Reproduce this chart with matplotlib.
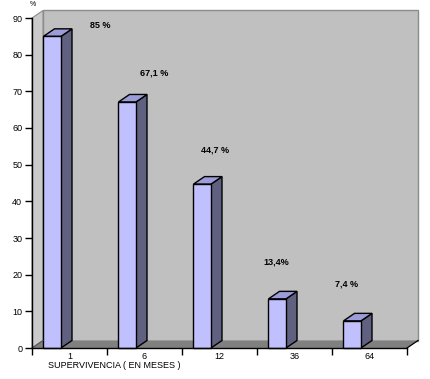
import matplotlib
matplotlib.use("Agg")
import matplotlib.pyplot as plt
from matplotlib.patches import Polygon

categories = ['1', '6', '12', '36', '64']
values = [85, 67.1, 44.7, 13.4, 7.4]
labels = ['85 %', '67,1 %', '44,7 %', '13,4%', '7,4 %']
label_pos = [(0.91, 88), (1.63, 75), (2.44, 54), (3.26, 23.5), (4.19, 17.5)]
yticks = list(range(0, 91, 10))

plt.rcParams['font.family'] = ['Liberation Sans', 'DejaVu Sans']

W, H = 431, 379
fig = plt.figure(figsize=(W / 100, H / 100), dpi=100)
ax = fig.add_axes([32 / W, (H - 348) / H, 375 / W, 330 / H])
ax.set_xlim(0, 5)
ax.set_ylim(0, 90)

dx = 11 / 75.0
dy = 7.5 / (330 / 90.0)
n = len(categories)

def poly(pts, fc, ec='none', lw=0.0, z=1):
    p = Polygon(pts, closed=True, facecolor=fc, edgecolor=ec, linewidth=lw,
                clip_on=False, zorder=z)
    ax.add_patch(p)

# back wall
poly([(dx, dy), (n + dx, dy), (n + dx, 90 + dy), (dx, 90 + dy)], '#c0c0c0', '#8c8c8c', 1.0, 0)
# left wall
poly([(0, 0), (dx, dy), (dx, 90 + dy), (0, 90)], '#cacaca', '#8c8c8c', 0.8, 0)
# floor
poly([(0, 0), (n, 0), (n + dx, dy), (dx, dy)], '#808080', 'none', 0, 0)
ax.plot([n, n + dx], [0, dy], color='black', lw=0.9, clip_on=False, zorder=5)
ax.plot([0, dx], [0, dy], color='#555555', lw=0.8, clip_on=False, zorder=5)

bw = 17.5 / 75.0
off = 11.5 / 75.0
for i, v in enumerate(values):
    x0 = i + off
    x1 = x0 + bw
    # side
    poly([(x1, 0), (x1 + dx, dy), (x1 + dx, v + dy), (x1, v)], '#606080', 'black', 1.0, 3)
    # top
    poly([(x0, v), (x1, v), (x1 + dx, v + dy), (x0 + dx, v + dy)], '#9c9cd8', 'black', 1.0, 3)
    # front
    poly([(x0, 0), (x1, 0), (x1, v), (x0, v)], '#c0c0ff', 'black', 1.0, 4)

for (x, y), t in zip(label_pos, labels):
    ax.text(x, y, t, fontsize=6.5, fontweight='bold', ha='center', va='center', zorder=6)

ax.set_facecolor('none')
for s in ['top', 'right']:
    ax.spines[s].set_visible(False)
for s in ['left', 'bottom']:
    ax.spines[s].set_color('black')
    ax.spines[s].set_linewidth(1.0)
    ax.spines[s].set_zorder(5)

ax.set_yticks(yticks)
ax.set_yticklabels([str(t) for t in yticks], fontsize=6.5)
ax.set_xticks(range(n + 1))
ax.set_xticklabels([''] * (n + 1))
ax.set_xticks([i + 0.5 for i in range(n)], minor=True)
ax.set_xticklabels(categories, minor=True, fontsize=6.5)
ax.tick_params(axis='x', which='major', direction='out', length=5, width=1)
ax.tick_params(axis='x', which='minor', length=0, pad=3)
ax.tick_params(axis='y', direction='out', length=5, width=1, pad=2)

fig.text(33 / W, 1 - 5 / H, '%', fontsize=5, ha='center', va='center')
fig.text(48 / W, 1 - 366 / H, 'SUPERVIVENCIA ( EN MESES )', fontsize=6.5, ha='left', va='center')

fig.savefig('out.png', dpi=100)
